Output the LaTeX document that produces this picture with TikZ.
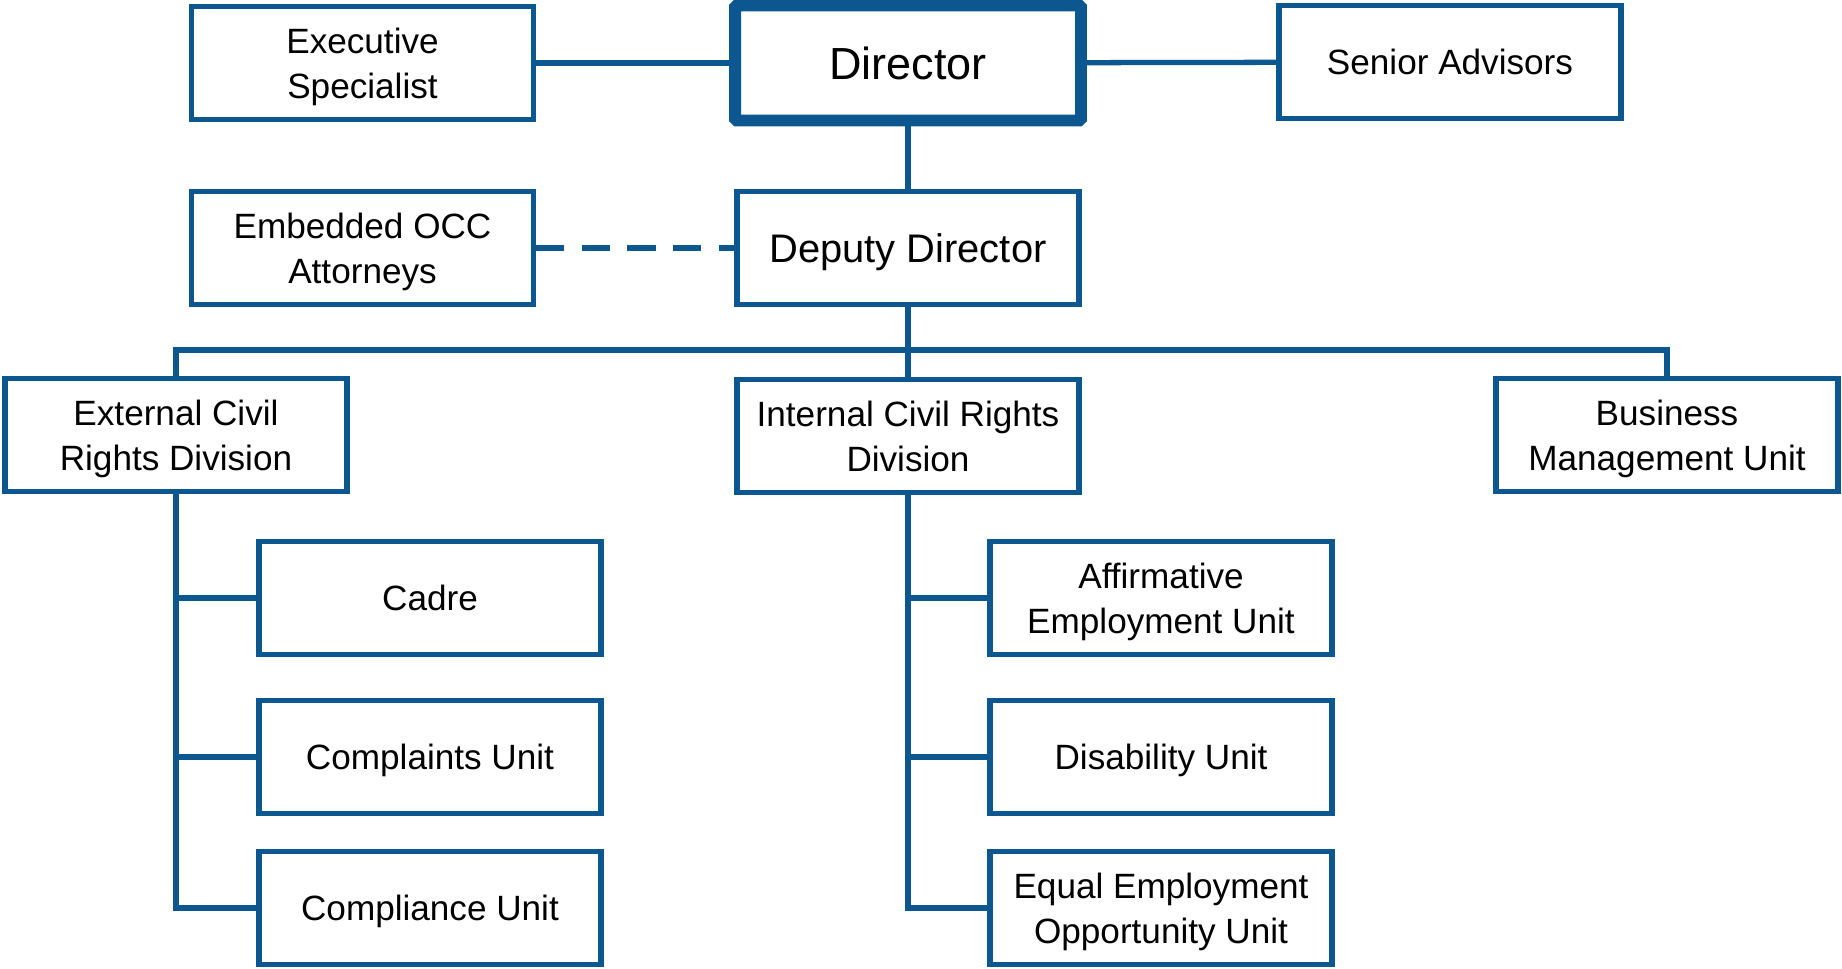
\documentclass[tikz,border=0pt]{standalone}
\usepackage{fontspec}
\setmainfont{Liberation Sans}
\usepackage{tikz}
\definecolor{org-blue}{HTML}{0C5790}

\begin{document}
\begin{tikzpicture}[x=0.02cm, y=-0.02cm,
    unit/.style={draw=org-blue, line width=3pt, fill=white, align=center,
      minimum width=6.84cm, minimum height=2.26cm, inner sep=0pt, text depth=0pt,
      font=\fontsize{20}{25.6}\selectfont},
    head/.style={unit, line width=6.8pt, rounded corners=1pt, minimum width=6.92cm,
      minimum height=2.3cm, font=\fontsize{25.6}{30}\selectfont},
    link/.style={draw=org-blue, line width=3pt}]
      \useasboundingbox (0,0) rectangle (1842,968);

      % top rows
      \node[head] (dir) at (908,63) {Director};
      \node[unit] (exec) at (362.5,63) {Executive\\Specialist};
      \node[unit] (senior) at (1450,62) {Senior Advisors};
      \node[unit] (occ) at (362.5,248) {Embedded OCC\\Attorneys};
      \node[unit, font=\fontsize{22.7}{27}\selectfont] (dep) at (908,248) {Deputy Director};

      % divisions
      \node[unit] (ext) at (176,435) {External Civil\\Rights Division};
      \node[unit] (int) at (908,436) {Internal Civil Rights\\Division};
      \node[unit] (bus) at (1667,435) {Business\\Management Unit};

      % units
      \node[unit] (cadre) at (430,598) {Cadre};
      \node[unit] (compl) at (430,757) {Complaints Unit};
      \node[unit] (compli) at (430,908) {Compliance Unit};
      \node[unit] (aff) at (1161,598) {Affirmative\\Employment Unit};
      \node[unit] (dis) at (1161,757) {Disability Unit};
      \node[unit] (eeo) at (1161,908) {Equal Employment\\Opportunity Unit};

      \coordinate (bar) at (908,350);

      \draw[link] (exec) -- (dir);
      \draw[link] (dir) -- (senior);
      \draw[link] (dir) -- (dep);
      \draw[link, dash pattern=on 16pt off 10pt] (occ) -- (dep);
      \draw[link] (dep) -- (int);
      \draw[link] (ext.north) |- (bar) -| (bus.north);
      \draw[link] (ext.south) |- (compli.west);
      \draw[link] (ext.south |- cadre.west) -- (cadre.west);
      \draw[link] (ext.south |- compl.west) -- (compl.west);
      \draw[link] (int.south) |- (eeo.west);
      \draw[link] (int.south |- aff.west) -- (aff.west);
      \draw[link] (int.south |- dis.west) -- (dis.west);
    \end{tikzpicture}
\end{document}
